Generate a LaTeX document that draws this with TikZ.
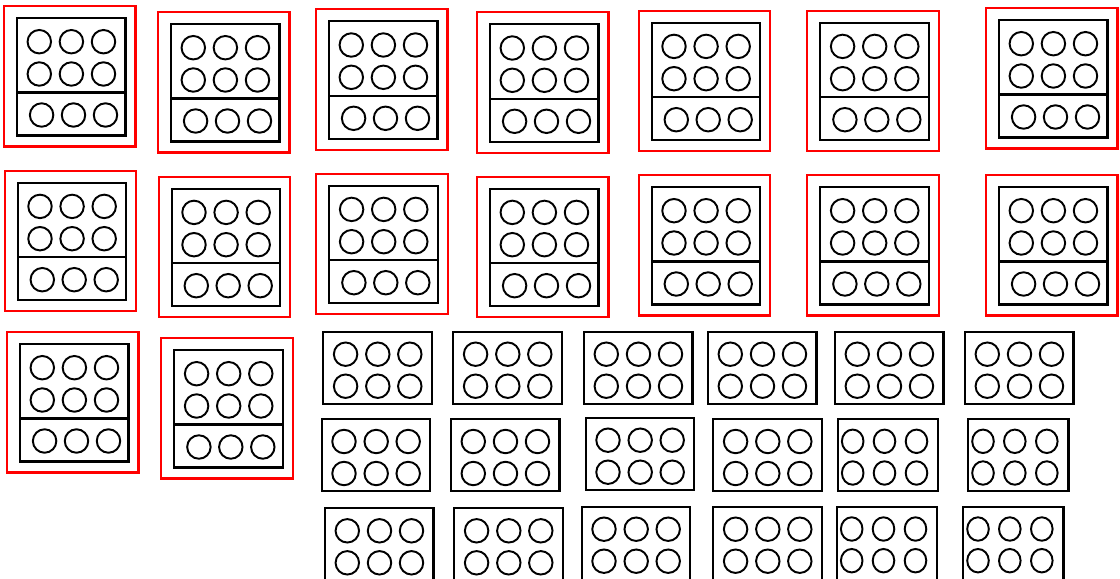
\documentclass[tikz,border=0pt]{standalone}
\tikzset{
  redframe/.style={draw=red, line width=1.6pt},
  unitbox/.style={draw=black, line width=1.7pt},
  peg/.style={draw=black, line width=1.45pt},
}
% #1,#2 = top-left corner of the black box of a framed unit (pixels)
\newcommand\legounit[2]{%
  \draw[redframe] (#1-13,#2-12) rectangle (#1+118.5,#2+128.5);
  \draw[unitbox] (#1,#2) rectangle (#1+108.5,#2+117.5);
  \draw[unitbox] (#1,#2+74.5) -- (#1+108.5,#2+74.5);
  \foreach \dx in {22.3,54.4,86.5}{\foreach \dy in {23.7,56}{\draw[peg] (#1+\dx,#2+\dy) circle[radius=8.8pt];}}
  \foreach \dx in {24.6,56.5,88.5}{\draw[peg] (#1+\dx,#2+97) circle[radius=8.8pt];}
}
% plain plate with 2x3 pegs; #3 = height
\newcommand\legoplate[3]{%
  \draw[unitbox] (#1,#2) rectangle (#1+108.5,#2+#3);
  \foreach \dx in {22.3,54.5,86.5}{\foreach \dy in {22.5,54.5}{\draw[peg] (#1+\dx,#2+\dy) circle[radius=8.8pt];}}
}
% narrow plate with 2x3 slightly narrow pegs
\newcommand\legonarrow[3]{%
  \draw[unitbox] (#1,#2) rectangle (#1+100.3,#2+#3);
  \foreach \dx in {14.7,46.5,78.5}{\foreach \dy in {22.3,54}{\draw[peg] (#1+\dx,#2+\dy) ellipse[x radius=8.1pt,y radius=8.8pt];}}
}
\begin{document}
\begin{tikzpicture}[x=0.75pt,y=-0.75pt]
\useasboundingbox (0,0) rectangle (1120,578);
\clip (0,0) rectangle (1120,578);
% row 1
\legounit{17}{18}
\legounit{171}{24}
\legounit{329}{21.3}
\legounit{490}{24.3}
\legounit{651.7}{22.7}
\legounit{820.3}{22.7}
\legounit{999}{20}
% row 2
\legounit{17.7}{182.7}
\legounit{171.7}{188.7}
\legounit{329.3}{185.7}
\legounit{490}{188.7}
\legounit{651.7}{187}
\legounit{820.3}{187}
\legounit{999}{187}
% row 3
\legounit{20}{344}
\legounit{174.3}{350}
% plates row A
\legoplate{323.3}{331.7}{72.3}
\legoplate{453.3}{331.7}{72.3}
\legoplate{584}{331.7}{72.3}
\legoplate{708}{331.7}{72.3}
\legoplate{835}{331.7}{72.3}
\legoplate{965}{331.7}{72.3}
% plates row B
\legoplate{321.7}{419}{72}
\legoplate{451}{419}{72}
\legoplate{585.7}{417.7}{72}
\legoplate{713.3}{419}{72}
\legonarrow{838}{419}{72}
\legonarrow{968.3}{419}{72}
% plates row C (cut by the lower edge)
\legoplate{325}{508.3}{80}
\legoplate{454.3}{508.3}{80}
\legoplate{581.7}{506.7}{80}
\legoplate{713.3}{506.7}{80}
\legonarrow{837}{506.7}{80}
\legonarrow{963.3}{506.7}{80}
\end{tikzpicture}
\end{document}
